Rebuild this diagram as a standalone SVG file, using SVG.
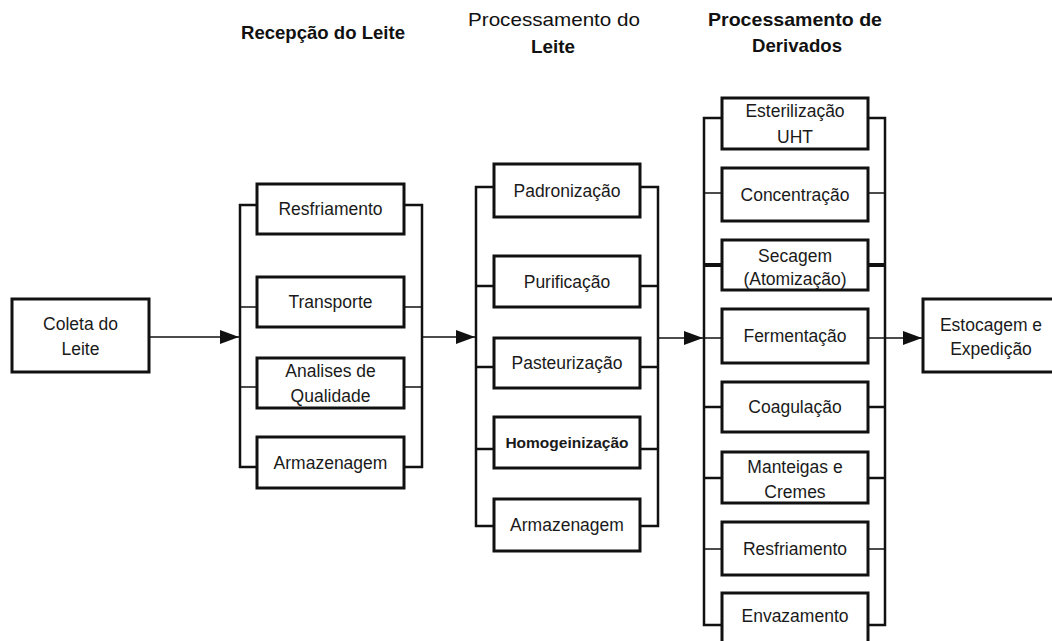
<svg xmlns="http://www.w3.org/2000/svg" width="1052" height="641" viewBox="0 0 1052 641">
  <style>
    .box { fill: #fff; stroke: #111; stroke-width: 3; }
    .t { font-family: "Liberation Sans", Arial, sans-serif; font-size: 17.5px; fill: #1a1a1a; text-anchor: middle; }
    .tb { font-family: "Liberation Sans", Arial, sans-serif; font-size: 15.5px; font-weight: bold; fill: #1a1a1a; text-anchor: middle; }
    .h { font-family: "Liberation Sans", Arial, sans-serif; font-size: 18.5px; font-weight: bold; fill: #111; }
    .hn { font-family: "Liberation Sans", Arial, sans-serif; font-size: 18.5px; fill: #111; }
    .br { fill: none; stroke: #111; stroke-width: 2.5; stroke-linejoin: miter; }
    .stub { fill: none; stroke: #111; stroke-width: 2.5; }
    .thin { fill: none; stroke: #111; stroke-width: 1.5; }
    .flow { fill: none; stroke: #111; stroke-width: 1.5; }
  </style>
  <defs>
    <marker id="arrow" markerUnits="userSpaceOnUse" markerWidth="20" markerHeight="16" refX="19" refY="7" orient="auto">
      <path d="M0,0 L19,7 L0,14 Z" fill="#111"/>
    </marker>
  </defs>
  <rect width="1052" height="641" fill="#fff"/>

  <g id="headers">
    <text class="h" x="241" y="39" textLength="164" lengthAdjust="spacingAndGlyphs">Recepção do Leite</text>
    <text class="hn" x="468" y="26" textLength="172" lengthAdjust="spacingAndGlyphs">Processamento do</text>
    <text class="h" x="531" y="53" textLength="44" lengthAdjust="spacingAndGlyphs">Leite</text>
    <text class="h" x="708" y="26" textLength="174" lengthAdjust="spacingAndGlyphs">Processamento de</text>
    <text class="h" x="752" y="52" textLength="90" lengthAdjust="spacingAndGlyphs">Derivados</text>
  </g>

  <g id="connectors">
    <!-- flow arrows -->
    <line class="flow" x1="149" y1="337" x2="239" y2="337" marker-end="url(#arrow)"/>
    <line class="flow" x1="422" y1="337" x2="475" y2="337" marker-end="url(#arrow)"/>
    <line class="flow" x1="658" y1="338" x2="703" y2="338" marker-end="url(#arrow)"/>
    <line class="flow" x1="885" y1="338" x2="922" y2="338" marker-end="url(#arrow)"/>
    <!-- column 1 brackets -->
    <path class="br" d="M257,205 H240 V467 H257"/>
    <path class="br" d="M404,205 H422 V467 H404"/>
    <line class="thin" x1="240" y1="307" x2="257" y2="307"/>
    <line class="thin" x1="404" y1="307" x2="422" y2="307"/>
    <line class="thin" x1="240" y1="387" x2="257" y2="387"/>
    <line class="thin" x1="404" y1="387" x2="422" y2="387"/>
    <!-- column 2 brackets -->
    <path class="br" d="M494,187 H476 V526 H494"/>
    <path class="br" d="M640,187 H658 V526 H640"/>
    <line class="stub" x1="476" y1="286" x2="494" y2="286"/>
    <line class="stub" x1="640" y1="286" x2="658" y2="286"/>
    <line class="stub" x1="476" y1="367" x2="494" y2="367"/>
    <line class="stub" x1="640" y1="367" x2="658" y2="367"/>
    <line class="stub" x1="476" y1="449" x2="494" y2="449"/>
    <line class="stub" x1="640" y1="449" x2="658" y2="449"/>
    <!-- column 3 brackets -->
    <path class="br" d="M722,118 H704 V625 H722"/>
    <path class="br" d="M868,118 H885 V625 H868"/>
    <line class="thin" x1="704" y1="193" x2="722" y2="193"/>
    <line class="thin" x1="868" y1="193" x2="885" y2="193"/>
    <line class="stub" x1="704" y1="265" x2="722" y2="265" style="stroke-width:4"/>
    <line class="stub" x1="868" y1="265" x2="885" y2="265" style="stroke-width:4"/>
    <line class="thin" x1="704" y1="338" x2="722" y2="338"/>
    <line class="thin" x1="868" y1="338" x2="885" y2="338"/>
    <line class="stub" x1="704" y1="407" x2="722" y2="407"/>
    <line class="stub" x1="868" y1="407" x2="885" y2="407"/>
    <line class="stub" x1="704" y1="478" x2="722" y2="478"/>
    <line class="stub" x1="868" y1="478" x2="885" y2="478"/>
    <line class="thin" x1="704" y1="549" x2="722" y2="549"/>
    <line class="thin" x1="868" y1="549" x2="885" y2="549"/>
  </g>

  <g id="coleta">
    <rect class="box" x="12" y="299" width="137" height="73"/>
    <text class="t" x="80.5" y="330">Coleta do</text>
    <text class="t" x="80.5" y="355">Leite</text>
  </g>

  <g id="resfriamento1">
    <rect class="box" x="257" y="184" width="147" height="50"/>
    <text class="t" x="330.5" y="215">Resfriamento</text>
  </g>
  <g id="transporte">
    <rect class="box" x="257" y="277" width="147" height="50"/>
    <text class="t" x="330.5" y="308">Transporte</text>
  </g>
  <g id="analises">
    <rect class="box" x="257" y="358" width="147" height="50"/>
    <text class="t" x="330.5" y="377">Analises de</text>
    <text class="t" x="330.5" y="402">Qualidade</text>
  </g>
  <g id="armazenagem1">
    <rect class="box" x="257" y="437" width="147" height="51"/>
    <text class="t" x="330.5" y="469">Armazenagem</text>
  </g>

  <g id="padronizacao">
    <rect class="box" x="494" y="164" width="146" height="53"/>
    <text class="t" x="567" y="197">Padronização</text>
  </g>
  <g id="purificacao">
    <rect class="box" x="494" y="256" width="146" height="51"/>
    <text class="t" x="567" y="288">Purificação</text>
  </g>
  <g id="pasteurizacao">
    <rect class="box" x="494" y="338" width="146" height="50"/>
    <text class="t" x="567" y="369">Pasteurização</text>
  </g>
  <g id="homogeinizacao">
    <rect class="box" x="494" y="417" width="146" height="51"/>
    <text class="tb" x="567" y="448">Homogeinização</text>
  </g>
  <g id="armazenagem2">
    <rect class="box" x="494" y="499" width="146" height="52"/>
    <text class="t" x="567" y="531">Armazenagem</text>
  </g>

  <g id="esterilizacao">
    <rect class="box" x="722" y="98" width="146" height="51"/>
    <text class="t" x="795" y="117">Esterilização</text>
    <text class="t" x="795" y="143">UHT</text>
  </g>
  <g id="concentracao">
    <rect class="box" x="722" y="168" width="146" height="53"/>
    <text class="t" x="795" y="201">Concentração</text>
  </g>
  <g id="secagem">
    <rect class="box" x="722" y="240" width="146" height="50"/>
    <text class="t" x="795" y="262">Secagem</text>
    <text class="t" x="795" y="285">(Atomização)</text>
  </g>
  <g id="fermentacao">
    <rect class="box" x="722" y="309" width="146" height="54"/>
    <text class="t" x="795" y="342">Fermentação</text>
  </g>
  <g id="coagulacao">
    <rect class="box" x="722" y="382" width="146" height="50"/>
    <text class="t" x="795" y="413">Coagulação</text>
  </g>
  <g id="manteigas">
    <rect class="box" x="722" y="452" width="146" height="51"/>
    <text class="t" x="795" y="473">Manteigas e</text>
    <text class="t" x="795" y="498">Cremes</text>
  </g>
  <g id="resfriamento2">
    <rect class="box" x="722" y="522" width="146" height="53"/>
    <text class="t" x="795" y="555">Resfriamento</text>
  </g>
  <g id="envazamento">
    <rect class="box" x="722" y="593" width="146" height="54"/>
    <text class="t" x="795" y="622">Envazamento</text>
  </g>

  <g id="estocagem">
    <rect class="box" x="923" y="299" width="140" height="73"/>
    <text class="t" x="991" y="331">Estocagem e</text>
    <text class="t" x="991" y="355">Expedição</text>
  </g>
</svg>
